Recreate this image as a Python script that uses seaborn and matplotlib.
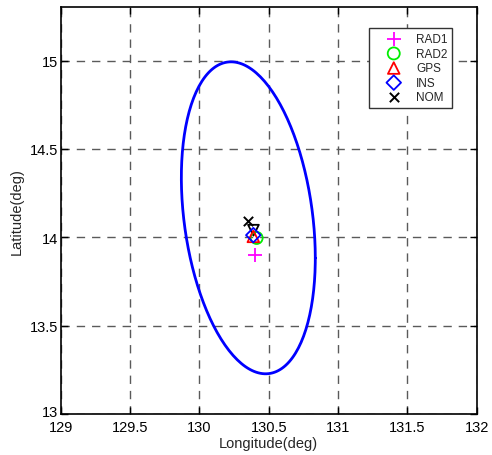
import numpy as np
import pandas as pd
import matplotlib
matplotlib.use("Agg")
import matplotlib.pyplot as plt
import matplotlib.transforms as mtransforms
import seaborn as sns

# ---- data ----
series_names = ["RAD1", "RAD2", "GPS", "INS", "NOM"]
series_lon = [130.40, 130.413, 130.389, 130.389, 130.353]
series_lat = [13.90, 13.996, 14.005, 14.012, 14.09]
extra_lon = [130.39]
extra_lat = [14.04]

ellipse_center = [130.353, 14.11]
ellipse_cov = [[0.2333, -0.110], [-0.110, 0.7788]]

x_ticks = [129, 129.5, 130, 130.5, 131, 131.5, 132]
x_tick_labels = ["129", "129.5", "130", "130.5", "131", "131.5", "132"]
y_ticks = [13, 13.5, 14, 14.5, 15]
y_tick_labels = ["13", "13.5", "14", "14.5", "15"]

# ---- style ----
sns.set_style("ticks")
plt.rcParams["font.family"] = ["Liberation Sans", "DejaVu Sans"]
plt.rcParams["xtick.direction"] = "in"
plt.rcParams["ytick.direction"] = "in"

fig = plt.figure(figsize=(4.92, 4.56), dpi=100)
ax = fig.add_axes([0.1234, 0.0899, 0.8455, 0.8915])

# ellipse curve from center + covariance
L = np.linalg.cholesky(np.array(ellipse_cov))
t = np.linspace(0, 2 * np.pi, 200)
pts = (L @ np.vstack([np.cos(t), np.sin(t)])).T + np.array(ellipse_center)
ell_df = pd.DataFrame({"lon": pts[:, 0], "lat": pts[:, 1]})
sns.lineplot(data=ell_df, x="lon", y="lat", sort=False, estimator=None,
             color="#0000ff", linewidth=2.0, ax=ax, legend=False, zorder=3)

styles = {
    "RAD1": dict(marker="+", color="#ff00ff", s=90, linewidth=1.3),
    "RAD2": dict(marker="o", facecolor="none", edgecolor="#00ee00", s=75, linewidth=1.3),
    "GPS": dict(marker="^", facecolor="none", edgecolor="#ff0000", s=70, linewidth=1.3),
    "INS": dict(marker="D", facecolor="none", edgecolor="#0000ff", s=55, linewidth=1.3),
    "NOM": dict(marker="x", color="#000000", s=45, linewidth=1.4),
}
for name, lo, la in zip(series_names, series_lon, series_lat):
    df = pd.DataFrame({"lon": [lo], "lat": [la]})
    sns.scatterplot(data=df, x="lon", y="lat", ax=ax, label=name, zorder=5, **styles[name])

df_extra = pd.DataFrame({"lon": extra_lon, "lat": extra_lat})
sns.scatterplot(data=df_extra, x="lon", y="lat", ax=ax, marker="v", facecolor="none",
                edgecolor="#000000", s=60, linewidth=1.3, zorder=4, legend=False)

ax.set_xlim(129, 132)
ax.set_ylim(13, 15.3)
ax.set_xticks(x_ticks)
ax.set_xticklabels(x_tick_labels)
ax.set_yticks(y_ticks)
ax.set_yticklabels(y_tick_labels)
ax.tick_params(axis="both", which="both", top=True, right=True, length=5,
               width=1.0, labelsize=10.5, colors="black")
ax.tick_params(axis="x", pad=4)
ax.tick_params(axis="y", pad=2)
ylabels = ax.get_yticklabels()
for lbl in ylabels:
    lbl.set_verticalalignment("center_baseline")
# lift the bottom "13" label a little, as in the reference
ylabels[0].set_transform(ylabels[0].get_transform() +
                         mtransforms.ScaledTranslation(0, 4 / 100, fig.dpi_scale_trans))
ax.grid(True, linestyle=(0, (6, 5)), color="#5a5a5a", linewidth=1.0)
ax.set_axisbelow(True)
for sp in ax.spines.values():
    sp.set_visible(True)
    sp.set_color("black")
    sp.set_linewidth(1.2)

ax.set_xlabel("Longitude(deg)", fontsize=10.5, labelpad=2)
ax.set_ylabel("Latitude(deg)", fontsize=10.5, labelpad=4)

leg = ax.legend(loc="upper left", bbox_to_anchor=(0.741, 0.949), fontsize=8.5,
                frameon=True, fancybox=False, framealpha=1, edgecolor="#333333",
                borderpad=0.4, labelspacing=0.22, handletextpad=0.2,
                handlelength=3.4, borderaxespad=0)
leg.get_frame().set_linewidth(1.0)

fig.savefig("out.png", dpi=100)
